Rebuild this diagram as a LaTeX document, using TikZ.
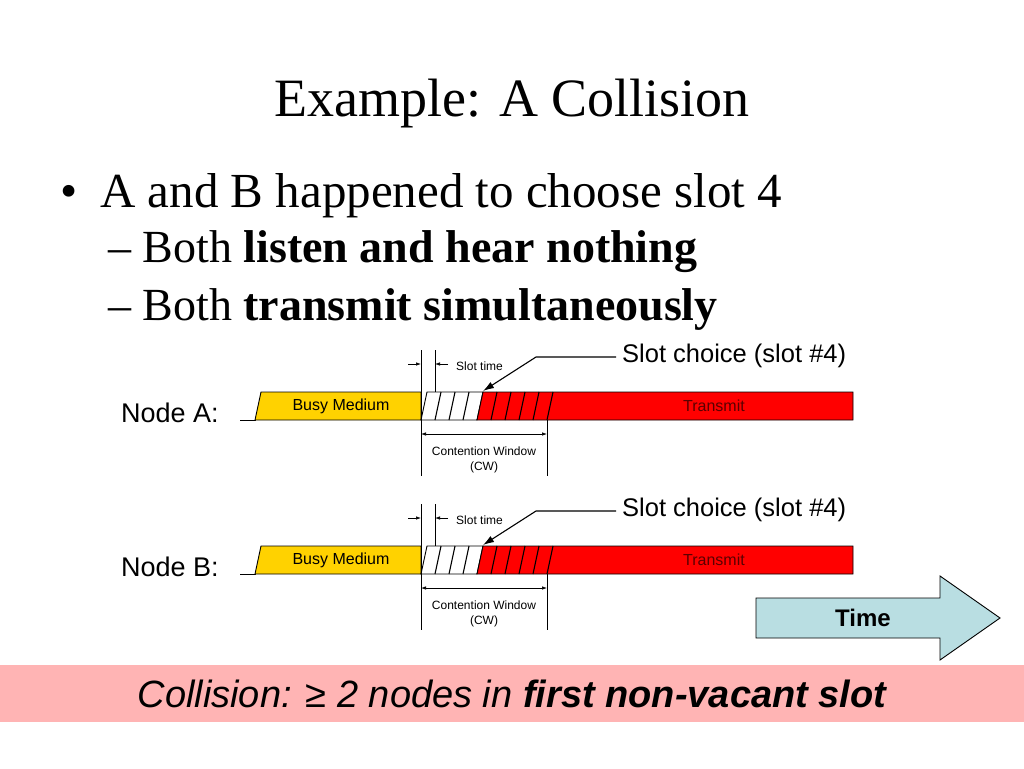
\documentclass[tikz,border=0pt]{standalone}
\usepackage{fontspec}
\setmainfont{Liberation Serif}
\setsansfont{Liberation Sans}
\usetikzlibrary{arrows.meta}
\definecolor{BusyYellow}{HTML}{FFD200}
\definecolor{TxRed}{HTML}{FF0000}
\definecolor{TxText}{HTML}{5A0000}
\definecolor{TimeCyan}{HTML}{B9DEE2}
\definecolor{BandPink}{HTML}{FFB4B4}
\newcommand{\fsz}[1]{\fontsize{#1}{#1}\selectfont}

\begin{document}
\begin{tikzpicture}[x=1pt,y=-1pt,>=Latex]
    \tikzset{
      edge/.style={draw=black,line width=0.9pt},
      dimline/.style={black,line width=0.7pt,{Latex[length=5pt,width=3.5pt]}-{Latex[length=5pt,width=3.5pt]}},
      tick/.style={black,line width=0.7pt,-{Latex[length=5pt,width=3.5pt]}},
      pointer/.style={black,line width=1.1pt,-{Latex[length=11pt,width=7pt]}},
      small/.style={font=\sffamily\fsz{12},inner sep=0pt},
      mid/.style={font=\sffamily\fsz{16},inner sep=0pt},
      label/.style={font=\sffamily\fsz{25.5},inner sep=0pt}
    }
    \useasboundingbox (0,0) rectangle (1024,768);
    \node[anchor=base,font=\fsz{54},inner sep=0pt] (title) at (512,116) {Example: A Collision};
    \node[anchor=base west,font=\fsz{49},inner sep=0pt] (dot) at (60,207) {\textbullet};
    \node[anchor=base west,font=\fsz{49},inner sep=0pt] (point) at (100,207) {A and B happened to choose slot 4};
    \node[anchor=base west,font=\fsz{46},inner sep=0pt] (listen) at (108,262) {\textendash\ Both \textbf{listen and hear nothing}};
    \node[anchor=base west,font=\fsz{46},inner sep=0pt] (transmit) at (108,320) {\textendash\ Both \textbf{transmit simultaneously}};
    \foreach \row/\dy in {A/0,B/154}{
      \begin{scope}[shift={(0,\dy)}]
        \node[font=\sffamily\fsz{27},inner sep=0pt] (node\row) at (170,413) {Node \row:};
        \draw[edge] (240,420) -- (256,420);
        \draw[edge,fill=BusyYellow] (255,420) -- (261,392) -- (421,392) -- (421,420) -- cycle;
        \draw[edge,fill=white] (421,420) -- (427,392) -- (483,392) -- (477,420) -- cycle;
        \draw[edge,fill=TxRed] (477,420) -- (483,392) -- (853,392) -- (853,420) -- cycle;
        \foreach \s in {435,449,463,491,505,519,533,547}
          \draw[edge,line width=1.1pt] (\s,420) -- (\s+6,392);
        \node[mid] (busy\row) at (341,406) {Busy Medium};
        \node[mid,text=TxText] (tx\row) at (714,406) {Transmit};
        \draw[edge,line width=0.7pt] (421,350) -- (421,476) (435,350) -- (435,392) (547,420) -- (547,476);
        \coordinate (lt\row) at (408,364);
        \coordinate (ls\row) at (421,364);
        \coordinate (rt\row) at (448,364);
        \coordinate (rs\row) at (435,364);
        \draw[tick] (lt\row) -- (ls\row);
        \draw[tick] (rt\row) -- (rs\row);
        \node[small,anchor=west] (slot\row) at (456,366) {Slot time};
        \coordinate (cwl\row) at (421,434);
        \coordinate (cwr\row) at (547,434);
        \draw[dimline] (cwl\row) -- (cwr\row);
        \node[small] (cw\row) at (484,451) {Contention Window};
        \node[small] (cwa\row) at (484,467) {(CW)};
        \node[label,anchor=west] (choice\row) at (622,356) {Slot choice (slot \#4)};
        \coordinate (stub\row) at (616,357);
        \coordinate (bend\row) at (536,357);
        \coordinate (pick\row) at (483,391);
        \draw[pointer] (stub\row) -- (bend\row) -- (pick\row);
      \end{scope}
    }
    \draw[edge,fill=TimeCyan] (756,598) -- (940,598) -- (940,576) -- (1000,618)
      -- (940,660) -- (940,638) -- (756,638) -- cycle;
    \node[font=\sffamily\bfseries\fsz{24},inner sep=0pt] (time) at (863,618) {Time};
    \fill[BandPink] (0,665) rectangle (1024,722);
    \node[font=\sffamily\itshape\fsz{38},inner sep=0pt] (rule) at (512,694)
      {Collision: ≥ 2 nodes in \textbf{first non-vacant slot}};
\end{tikzpicture}
\end{document}
